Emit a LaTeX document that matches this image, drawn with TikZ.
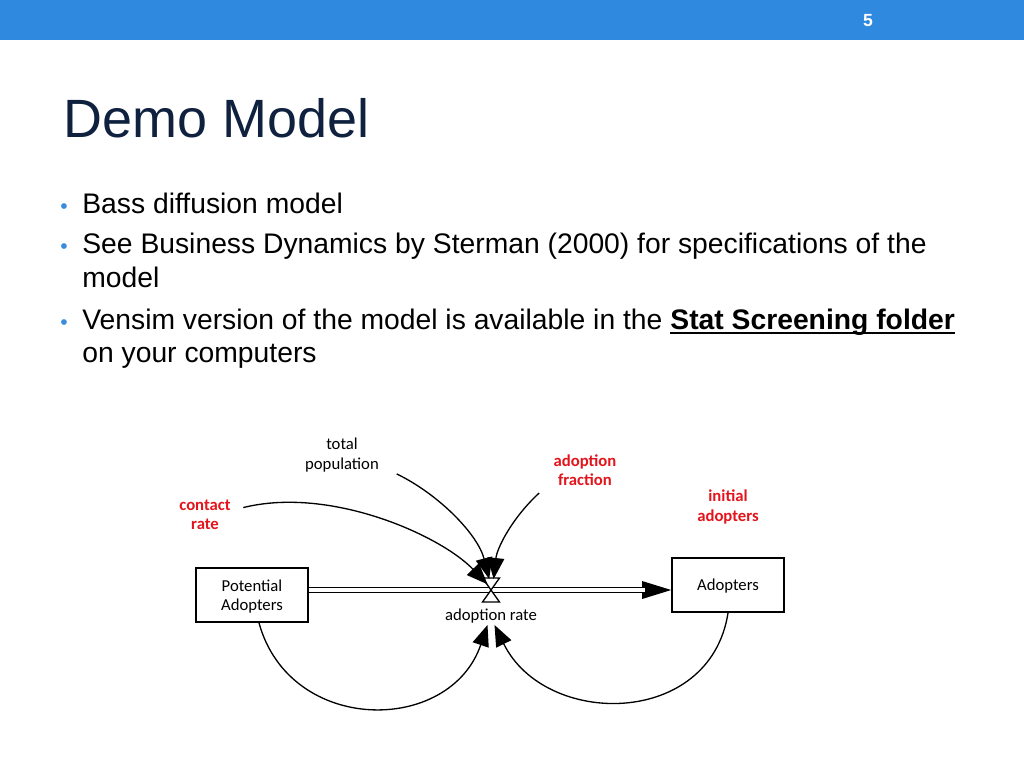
\documentclass[tikz,border=0pt]{standalone}
\usepackage{fontspec}
\setmainfont{Liberation Sans}
\newfontfamily\diagFont{Carlito}
\usepackage{xcolor}
\definecolor{barBlue}{HTML}{2E89DF}
\definecolor{bulletBlue}{HTML}{3A8DDA}
\definecolor{titleDark}{HTML}{0F213F}
\definecolor{paramRed}{HTML}{E3141B}
\newcommand\thickUnderline[1]{\setbox0\hbox{#1}\rlap{\vrule height -1.9pt depth 3.1pt width \wd0}\box0}
\usepackage{tikz}
\usetikzlibrary{positioning,calc,arrows.meta}
\tikzset{
  stockBox/.style={
    rectangle,
    draw=black,
    line width=0.9pt,
    fill=white,
    minimum width=2.24cm,
    minimum height=1.09cm,
    align=center,
    font=\diagFont\fontsize{9.5}{11}\selectfont
 },
  plainLabel/.style={
    align=center,
    inner sep=1pt,
    font=\diagFont\fontsize{9.5}{11}\selectfont
 },
  redLabel/.style={
    plainLabel,
    text=paramRed,
    font=\diagFont\bfseries\fontsize{9.5}{11}\selectfont
 },
  infoArrow/.style={
    -{Triangle[length=12pt,width=9.5pt]},
    line width=0.75pt
 },
  pipeLine/.style={
    double,
    double distance=2.1pt,
    line width=0.75pt
 },
  flowTip/.style={
    -{Triangle[length=16.5pt,width=10pt]},
    line width=0.75pt
 },
  valveHalf/.style={
    draw,
    fill=white,
    line width=0.75pt
 },
  bulletText/.style={
    anchor=base west,
    inner sep=0pt,
    font=\fontsize{16.1}{19}\selectfont
 },
  bulletDot/.style={
    anchor=base,
    inner sep=0pt,
    text=bulletBlue,
    font=\fontsize{12}{14}\selectfont
 }
}

\begin{document}
\begin{tikzpicture}[x=0.02cm, y=-0.02cm]
  \useasboundingbox (0,0) rectangle (1024,768);

  % header bar and title
  \fill[barBlue] (0,0) rectangle (1024,40);
  \node[text=white, font=\bfseries\fontsize{10}{12}\selectfont] (pageNum) at (868,21) {5};
  \node[anchor=base west, inner sep=0pt, text=titleDark, font=\fontsize{30.7}{36}\selectfont] (title) at (63,137) {Demo Model};

  % bullet list
  \node[bulletDot] (dot1) at (64,213) {•};
  \node[bulletText] (bass) at (82,213) {Bass diffusion model};
  \node[bulletDot] (dot2) at (64,253) {•};
  \node[bulletText] (see) at (82,253) {See Business Dynamics by Sterman (2000) for specifications of the};
  \node[bulletText] (seeMore) at (82,287) {model};
  \node[bulletDot] (dot3) at (64,329) {•};
  \node[bulletText] (vensim) at (82,329) {Vensim version of the model is available in the \thickUnderline{\textbf{Stat Screening folder}}};
  \node[bulletText] (vensimMore) at (82,362) {on your computers};

  % stocks and flow
  \node[stockBox, text depth=-3pt] (potential) at (252,595) {Potential\\Adopters};
  \node[stockBox, text depth=-3pt] (adopters) at (728,585) {Adopters};
  \coordinate (valve) at (491,590);
  \coordinate (valveTop) at (491,579);

  \draw[flowTip] (valve) -- (adopters.west |- valve);
  \draw[pipeLine, shorten >=15pt] (potential.east |- valve) -- (adopters.west |- valve);
  \draw[valveHalf] (valve) -- ++(-8.5,-12) -- ++(17,0) -- cycle;
  \draw[valveHalf] (valve) -- ++(-8.5,12) -- ++(17,0) -- cycle;
  \node[plainLabel, below=0.33cm of valve] (rate) {adoption rate};

  % parameters
  \node[redLabel] (contact) at (205,515) {contact\\rate};
  \node[plainLabel] (total) at (342,455) {total\\population};
  \node[redLabel] (fraction) at (585,470) {adoption\\fraction};
  \node[redLabel, above=0.62cm of adopters] (initial) {initial\\adopters};

  % links into the rate
  \draw[infoArrow] ([xshift=6pt]contact.15) .. controls (330,486) and (440,535) .. ([xshift=-2pt,yshift=-3pt]valveTop);
  \draw[infoArrow] ([xshift=9pt]total.south east) .. controls (440,495) and (478,535) .. ([xshift=-1pt]valveTop);
  \draw[infoArrow] ([xshift=-7pt,yshift=-3pt]fraction.south west) .. controls (512,518) and (497,548) .. ([xshift=1.5pt]valveTop);
  \draw[infoArrow] ([xshift=4pt]potential.south) .. controls (290,735) and (450,735) .. ([xshift=-2pt]rate.south);
  \draw[infoArrow] (adopters.south) .. controls (710,728) and (545,728) .. ([xshift=2pt]rate.south);
\end{tikzpicture}
\end{document}
